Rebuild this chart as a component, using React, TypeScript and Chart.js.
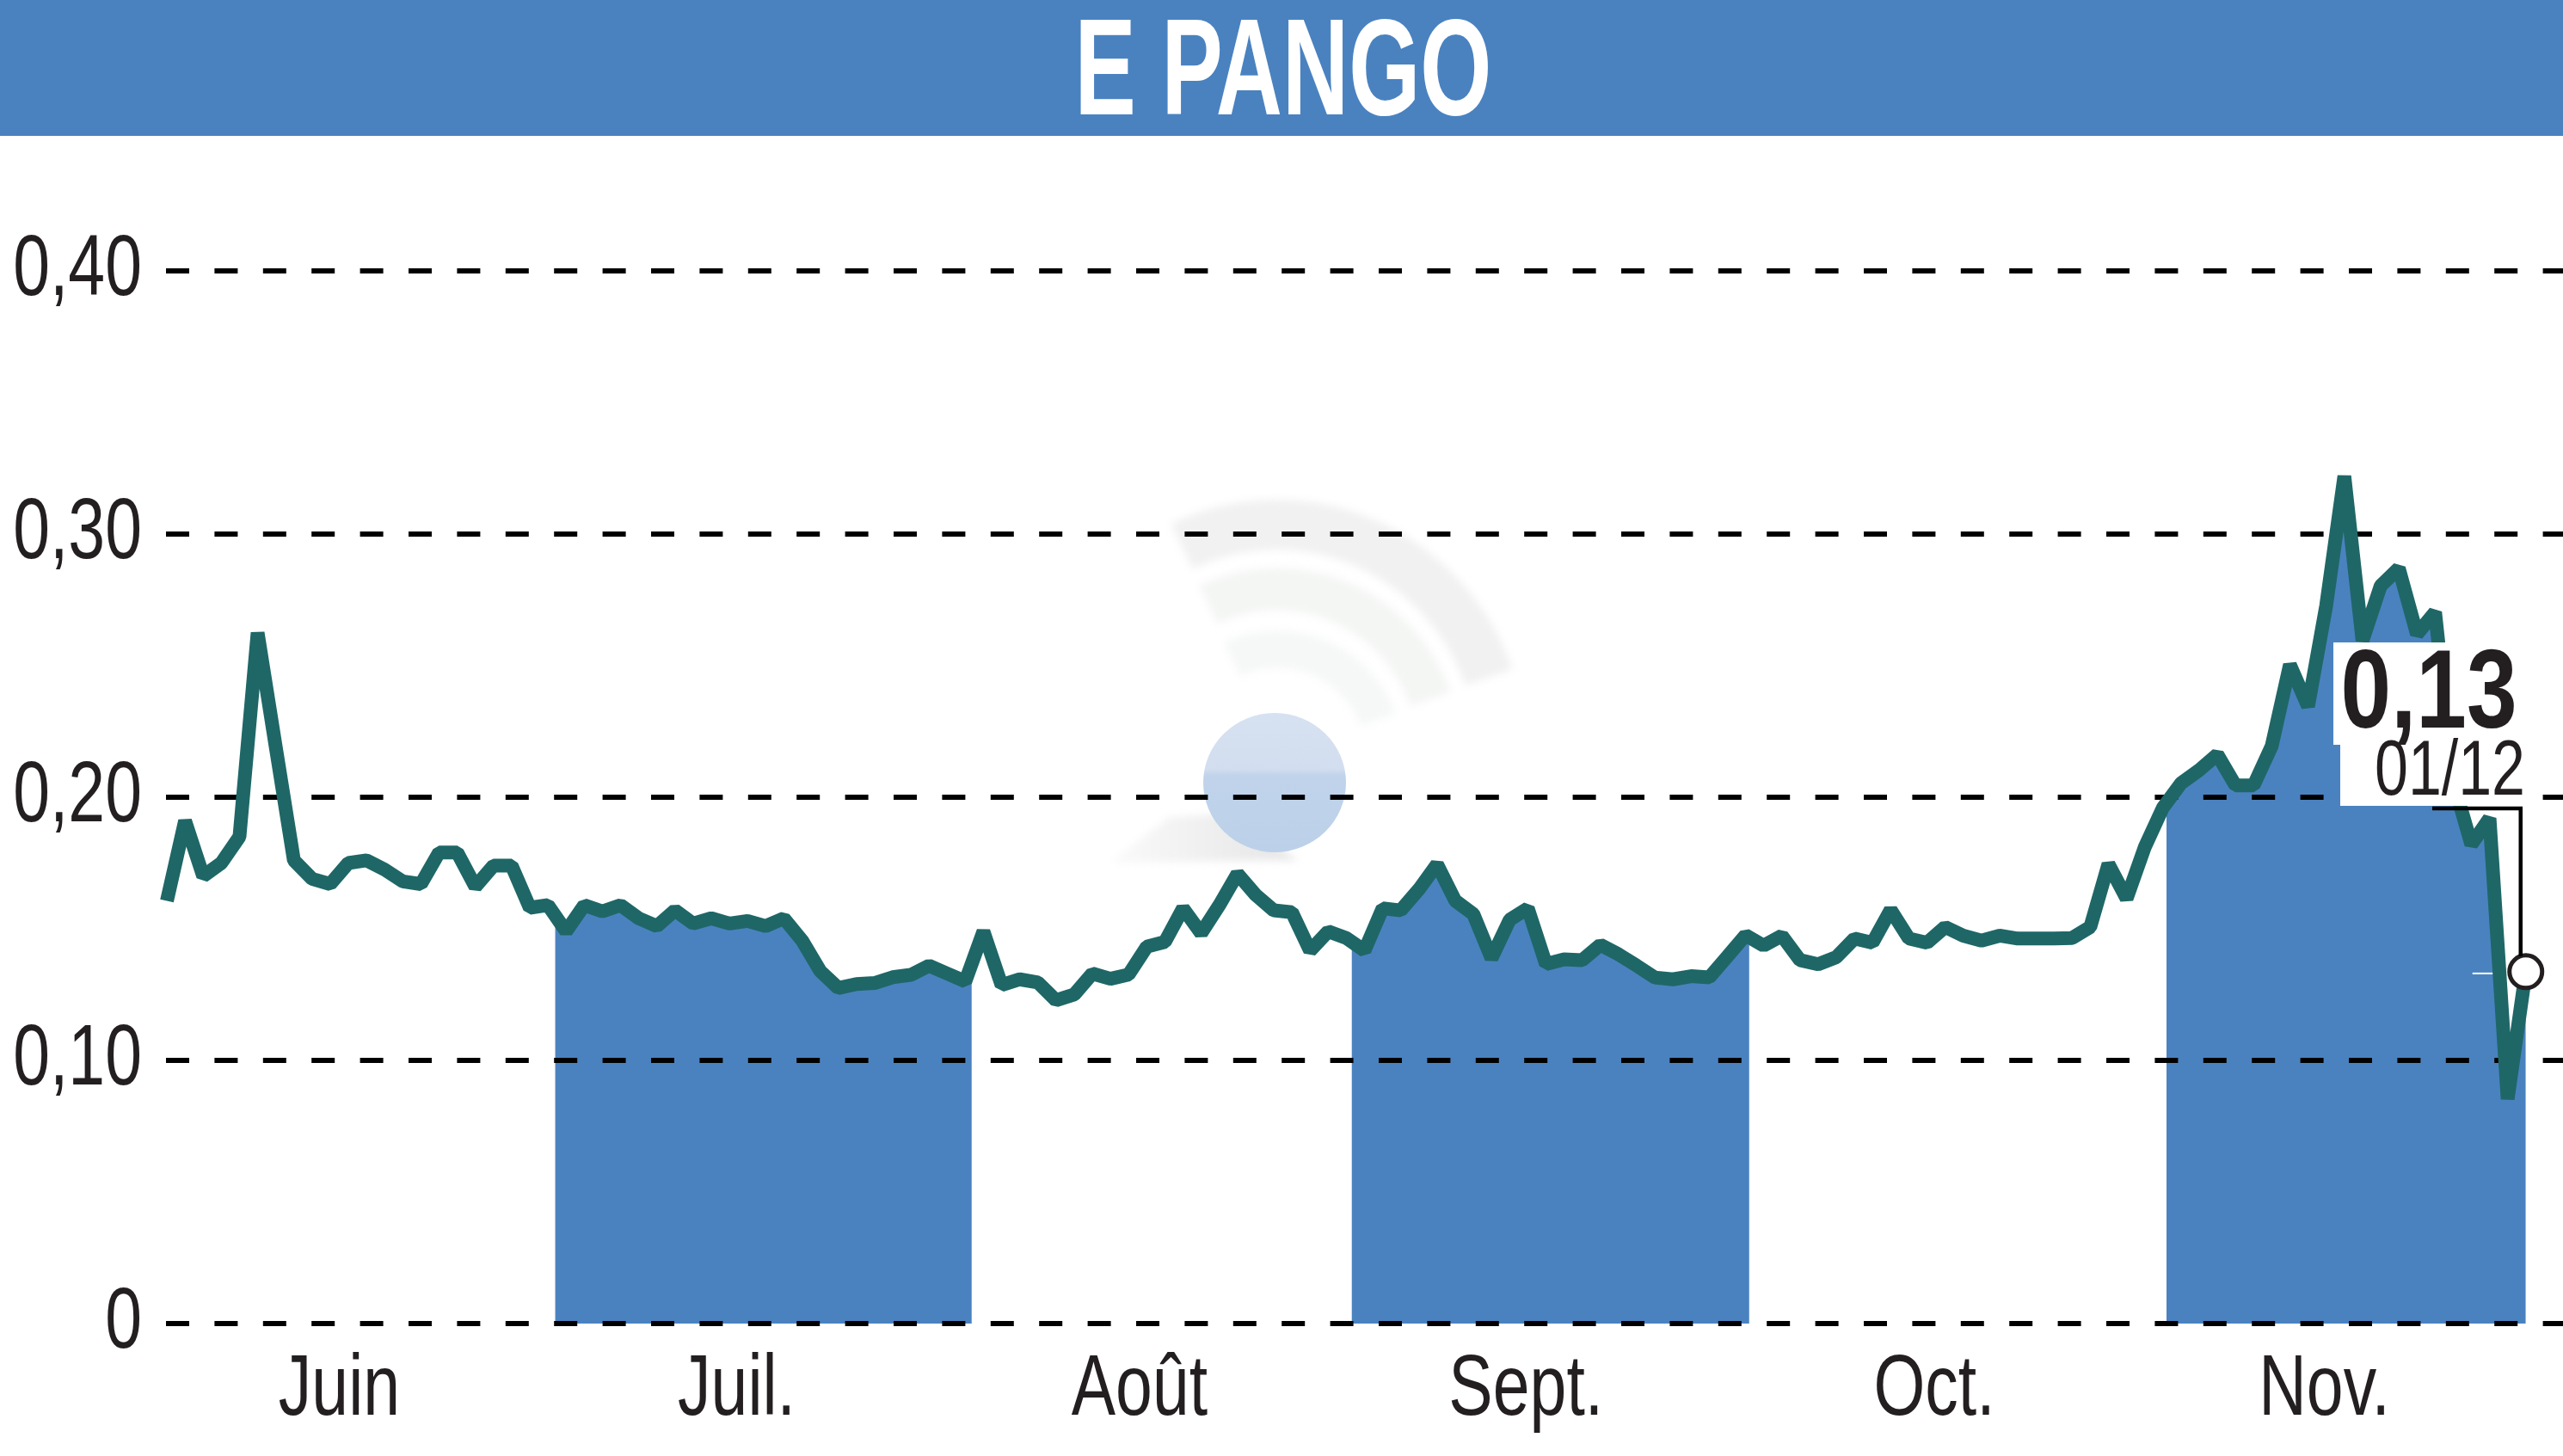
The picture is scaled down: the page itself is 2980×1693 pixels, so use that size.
import React, { useEffect, useRef } from "react";
import { Chart, registerables } from "chart.js";

const titleText = "E PANGO";
const lastValueLabel = "0,13";
const lastDateLabel = "01/12";

const prices = [
  0.1606, 0.191, 0.17, 0.175, 0.185, 0.2625, 0.219, 0.176, 0.169, 0.167,
  0.175, 0.176, 0.1725, 0.168, 0.167, 0.179, 0.179, 0.166, 0.174, 0.174,
  0.158, 0.159, 0.149, 0.159, 0.1566, 0.159, 0.154, 0.151, 0.157, 0.152,
  0.154, 0.152, 0.153, 0.151, 0.154, 0.1456, 0.134, 0.1275, 0.129, 0.1294,
  0.1316, 0.1325, 0.136, 0.133, 0.13, 0.149, 0.1286, 0.1308, 0.1296, 0.1228,
  0.125, 0.133, 0.131, 0.1326, 0.1432, 0.145, 0.1578, 0.1483, 0.159, 0.1709,
  0.1629, 0.157, 0.1563, 0.1417, 0.149, 0.1465, 0.1417, 0.1578, 0.157, 0.165,
  0.1745, 0.1607, 0.1556, 0.1388, 0.1534, 0.1578, 0.1366, 0.1384, 0.1381, 0.1439,
  0.1403, 0.136, 0.1315, 0.1308, 0.132, 0.1315, 0.1395, 0.1476, 0.1436, 0.1474,
  0.1381, 0.1365, 0.1392, 0.1463, 0.1447, 0.1572, 0.1463, 0.1447, 0.1507, 0.1474,
  0.1455, 0.1474, 0.1463, 0.1463, 0.1463, 0.1465, 0.1507, 0.1746, 0.1615, 0.181,
  0.196, 0.2053, 0.2103, 0.2162, 0.2045, 0.2045, 0.2195, 0.2503, 0.2345, 0.2728,
  0.322, 0.2595, 0.2803, 0.287, 0.262, 0.2703, 0.206, 0.182, 0.192, 0.0853, 0.1337,
];

const yTicks = [0, 0.1, 0.2, 0.3, 0.4];
const yLabels = ["0", "0,10", "0,20", "0,30", "0,40"];
const monthLabels = ["Juin", "Juil.", "Août", "Sept.", "Oct.", "Nov."];
const monthPositions = [9.5, 31.4, 53.6, 74.9, 97.4, 118.9];
const shadedMonths = [
  [21.4, 44.35],
  [65.3, 87.2],
  [110.2, 130.15],
];

const BLUE = "#4A82C0";
const TEAL = "#1F6767";
const INK = "#231F20";
const FONT = '"Liberation Sans", sans-serif';
const CONDENSE = 0.77;

const paperPlugin = {
  id: "paper",
  beforeDraw(chart: any) {
    const { ctx, width } = chart;
    if (!ctx.__condensed) {
      const original = ctx.fillText.bind(ctx);
      ctx.__original = original;
      ctx.fillText = (t: string, x: number, y: number) =>
        original(t, x, y, ctx.measureText(t).width * CONDENSE);
      ctx.__condensed = true;
    }
    ctx.save();
    ctx.fillStyle = "#fff";
    ctx.fillRect(0, 0, width, chart.height);
    ctx.fillStyle = BLUE;
    ctx.fillRect(0, 0, width, 158);
    ctx.fillStyle = "#fff";
    ctx.font = `bold 160px ${FONT}`;
    ctx.textAlign = "center";
    ctx.textBaseline = "middle";
    ctx.__original(titleText, 1492, 89, 485);
    ctx.restore();

    ctx.save();
    ctx.filter = "blur(5px)";
    const arcs = [
      [1485, 880, 262, 270, 58, "#F0F1F0"],
      [1485, 880, 190, 195, 50, "#F4F6F4"],
      [1485, 880, 125, 125, 44, "#F6F8F7"],
    ] as const;
    arcs.forEach(([cx, cy, rx, ry, w, c]) => {
      ctx.beginPath();
      ctx.strokeStyle = c;
      ctx.lineWidth = w;
      ctx.ellipse(cx, cy, rx, ry, 0, (-115 * Math.PI) / 180, (-20 * Math.PI) / 180);
      ctx.stroke();
    });
    const shadow = ctx.createLinearGradient(1291, 0, 1500, 0);
    shadow.addColorStop(0, "#FAFAFA");
    shadow.addColorStop(1, "#E6E6E6");
    ctx.fillStyle = shadow;
    ctx.beginPath();
    ctx.moveTo(1291, 1003);
    ctx.lineTo(1360, 950);
    ctx.lineTo(1420, 947);
    ctx.lineTo(1510, 1000);
    ctx.closePath();
    ctx.fill();
    ctx.filter = "none";
    const ball = ctx.createLinearGradient(0, 830, 0, 990);
    ball.addColorStop(0, "#D6E1F1");
    ball.addColorStop(0.4, "#D2DEEF");
    ball.addColorStop(0.45, "#C0D3EA");
    ball.addColorStop(1, "#BCD1E9");
    ctx.fillStyle = ball;
    ctx.beginPath();
    ctx.ellipse(1482, 910, 83, 81, 0, 0, Math.PI * 2);
    ctx.fill();
    ctx.restore();
  },
  beforeDatasetDraw(chart: any, args: any) {
    if (args.index !== 1) return;
    const { ctx, chartArea } = chart;
    const x = chart.scales.x;
    ctx.save();
    ctx.globalCompositeOperation = "multiply";
    ctx.beginPath();
    shadedMonths.forEach(([a, b]) => {
      const l = x.getPixelForValue(a);
      ctx.rect(l, chartArea.top, x.getPixelForValue(b) - l, chartArea.bottom - chartArea.top);
    });
    ctx.clip();
  },
  afterDatasetDraw(chart: any, args: any) {
    if (args.index !== 1) return;
    const { ctx } = chart;
    ctx.restore();
    const x = chart.scales.x;
    const y = chart.scales.y;
    const last = prices.length - 1;
    ctx.save();
    ctx.fillStyle = "#fff";
    ctx.fillRect(x.getPixelForValue(last) - 62, y.getPixelForValue(prices[last]) + 1, 42, 2);
    ctx.restore();
  },
  afterDraw(chart: any) {
    const { ctx } = chart;
    const x = chart.scales.x;
    const y = chart.scales.y;
    const last = prices.length - 1;
    const px = x.getPixelForValue(last);
    const py = y.getPixelForValue(prices[last]);
    ctx.save();
    ctx.fillStyle = "#fff";
    ctx.fillRect(2713, 747, 212, 119);
    ctx.fillRect(2721, 866, 214, 71);
    ctx.strokeStyle = "#000";
    ctx.lineWidth = 4.5;
    ctx.beginPath();
    ctx.moveTo(2828, 940);
    ctx.lineTo(px - 6, 940);
    ctx.lineTo(px - 6, py - 18);
    ctx.stroke();
    ctx.fillStyle = INK;
    ctx.textBaseline = "middle";
    ctx.textAlign = "center";
    ctx.font = `bold 130px ${FONT}`;
    ctx.__original(lastValueLabel, 2824, 810, 205);
    ctx.textAlign = "right";
    ctx.font = `90px ${FONT}`;
    ctx.__original(lastDateLabel, 2936, 899, 175);
    ctx.restore();
  },
};

// Registered first so that the clip of the shaded months runs before the filler draws.
Chart.register(paperPlugin as any);
Chart.register(...registerables);

export default function App() {
  const ref = useRef<HTMLCanvasElement>(null);
  useEffect(() => {
    document.body.style.margin = "0";
    const points = prices.map((v, i) => ({ x: i, y: v }));
    const chart = new Chart(ref.current!, {
      type: "line",
      data: {
        datasets: [
          {
            label: "Cours",
            data: points,
            borderColor: TEAL,
            borderWidth: 16,
            borderJoinStyle: "bevel",
            borderCapStyle: "butt",
            tension: 0,
            fill: false,
            pointRadius: (c: any) => (c.dataIndex === prices.length - 1 ? 19 : 0),
            pointBackgroundColor: "#fff",
            pointBorderColor: INK,
            pointBorderWidth: 5,
            clip: false,
          },
          {
            label: "Mois",
            data: points,
            borderWidth: 0,
            backgroundColor: BLUE,
            fill: "origin",
            tension: 0,
            pointRadius: 0,
          },
        ],
      } as any,
      options: {
        animation: false,
        responsive: false,
        devicePixelRatio: 1,
        layout: { autoPadding: false, padding: { top: 158, left: 0, right: 0, bottom: 0 } },
        plugins: { legend: { display: false }, tooltip: { enabled: false }, title: { display: false } },
        scales: {
          x: {
            type: "linear",
            min: -0.05,
            max: 132.05,
            grid: { display: false },
            border: { display: false },
            afterFit: (s: any) => { s.height = 154; },
            afterBuildTicks: (s: any) => { s.ticks = monthPositions.map((value) => ({ value })); },
            ticks: {
              autoSkip: false,
              maxRotation: 0,
              padding: 10,
              color: INK,
              font: { family: FONT, size: 100 },
              callback: (v: any) => monthLabels[monthPositions.indexOf(v)],
            },
          },
          y: {
            type: "linear",
            min: 0,
            max: 0.4513,
            grid: { color: "#000", lineWidth: 6, drawTicks: false },
            border: { display: false, dash: [27, 29.4] },
            afterFit: (s: any) => { s.width = 193; },
            afterBuildTicks: (s: any) => { s.ticks = yTicks.map((value) => ({ value })); },
            ticks: {
              padding: 28,
              color: INK,
              font: { family: FONT, size: 100 },
              callback: (v: any) => yLabels[yTicks.indexOf(v)],
            },
          },
        },
      },
    } as any);
    return () => chart.destroy();
  }, []);
  return <canvas ref={ref} width={2980} height={1693} style={{ display: "block" }} />;
}
